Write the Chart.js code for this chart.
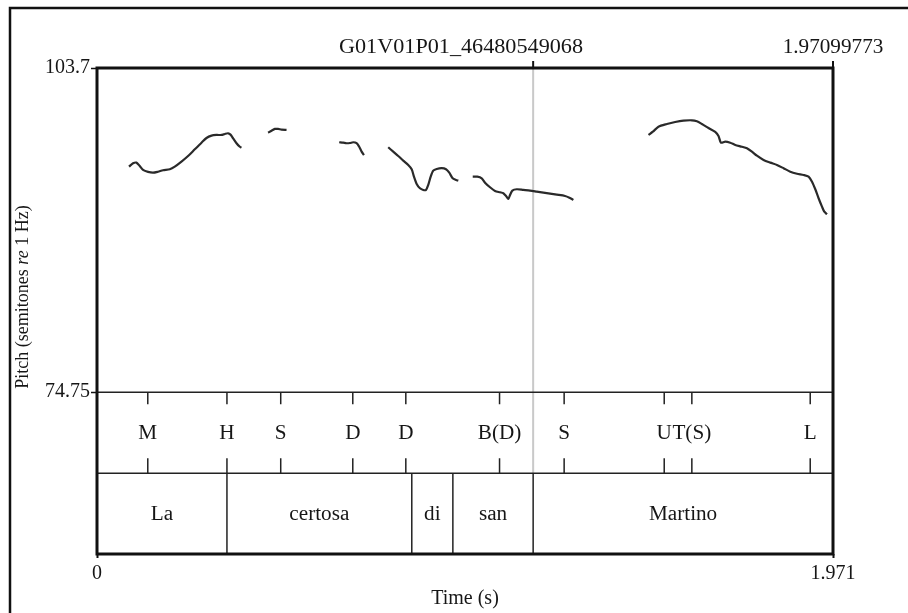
<!DOCTYPE html>
<html>
<head>
<meta charset="utf-8">
<script src="https://cdn.jsdelivr.net/npm/chart.js@4.4.1/dist/chart.umd.min.js"></script>
<style>
  html, body { margin: 0; padding: 0; background: #ffffff; }
  #wrap { width: 908px; height: 613px; }
</style>
</head>
<body>
<div id="wrap"><canvas id="c" width="908" height="613"></canvas></div>
<script>
// ---------------- data ----------------
const soundName = 'G01V01P01_46480549068';
const endTimeLabel = '1.97099773';
const timeMin = 0;
const timeMax = 1.971;
const xTickValues = [0, 1.971];
const pitchMin = 74.75;
const pitchMax = 103.7;
const yTickValues = [103.7, 74.75];
const tierBoundary = 67.52;   // bottom of tone tier (same units as pitch axis)
const axisFloor = 60.3;       // bottom of word tier
const cursorTime = 1.168;

// pitch contour (null = unvoiced gap)
const pitchTimes = [
  0.0858,0.0965,0.1056,0.1144,0.1233,0.1367,0.1501,0.1635,0.1769,0.1949,0.2083,0.2262,0.2439,0.2619,0.2798,0.2932,0.3066,0.3200,0.3334,0.3423,0.3511,0.3575,0.3645,0.3736,0.3825,0.3870,
  0.42,
  0.4583,0.4674,0.4763,0.4851,0.4942,0.5076,
  0.58,
  0.6486,0.6593,0.6684,0.6773,0.6861,0.6952,0.7022,0.7087,0.7148,
  0.75,
  0.7799,0.7933,0.8067,0.8201,0.8335,0.8427,0.8488,0.8561,0.8649,0.8737,0.8810,0.8871,0.8936,0.9005,0.9097,0.9231,0.9346,0.9434,0.9525,0.9614,0.9676,
  0.99,
  1.0062,1.0185,1.0303,1.0391,1.0525,1.0659,1.0793,1.0882,1.0954,1.1016,1.1061,1.1123,1.1241,1.1418,1.1597,1.1777,1.1954,1.2133,1.2313,1.2535,1.2651,1.2758,
  1.38,
  1.4768,1.4886,1.5036,1.5261,1.5483,1.5706,1.5931,1.6065,1.6199,1.6376,1.6556,1.6644,1.6709,1.6824,1.6958,1.7092,1.7271,1.7405,1.7539,1.7673,1.7850,1.8030,1.8209,1.8386,1.8566,1.8746,1.8922,1.9056,1.9148,1.9236,1.9324,1.9415,1.9477,1.9550
];
const pitchValues = [
  94.89,95.19,95.25,94.95,94.60,94.42,94.35,94.44,94.57,94.66,94.89,95.34,95.84,96.44,97.03,97.45,97.66,97.72,97.72,97.81,97.87,97.75,97.42,96.98,96.67,96.59,
  null,
  97.92,98.10,98.26,98.26,98.19,98.17,
  null,
  97.07,97.03,96.98,97.00,97.07,97.00,96.67,96.23,95.93,
  null,
  96.62,96.23,95.84,95.43,95.04,94.66,94.00,93.35,92.96,92.81,92.81,93.26,94.00,94.53,94.68,94.75,94.66,94.35,93.85,93.70,93.64,
  null,
  94.00,94.00,93.85,93.46,93.05,92.72,92.60,92.52,92.27,92.01,92.36,92.75,92.87,92.81,92.75,92.66,92.57,92.48,92.39,92.27,92.12,91.92,
  null,
  97.72,98.01,98.46,98.70,98.88,99.00,99.03,98.94,98.70,98.34,97.99,97.63,97.03,97.12,97.03,96.83,96.67,96.53,96.23,95.87,95.49,95.25,95.04,94.75,94.44,94.26,94.15,94.00,93.55,92.87,92.07,91.32,90.87,90.64
];

// tone tier (point tier)
const toneTimes  = [0.136, 0.348, 0.492, 0.685, 0.827, 1.078, 1.251, 1.519, 1.593, 1.910];
const toneLabels = ['M', 'H', 'S', 'D', 'D', 'B(D)', 'S', 'U', 'T(S)', 'L'];

// word tier (interval tier)
const wordBounds = [0, 0.348, 0.843, 0.953, 1.168, 1.971];
const wordLabels = ['La', 'certosa', 'di', 'san', 'Martino'];

// ---------------- style ----------------
const FONT = '"Liberation Serif", "Times New Roman", serif';
const INK = '#161616';
const STRETCH = 1.06;

function stretchedText(ctx, s, x, y, k) {
  ctx.save();
  ctx.translate(x, y);
  ctx.scale(k, 1);
  ctx.fillText(s, 0, 0);
  ctx.restore();
}

const praatPlugin = {
  id: 'praatDecor',
  beforeDatasetsDraw(chart) {
    const { ctx, chartArea: a, scales: { x, y } } = chart;
    ctx.save();
    const cx = x.getPixelForValue(cursorTime);
    ctx.strokeStyle = '#c9c9c9';
    ctx.lineWidth = 2;
    ctx.beginPath();
    ctx.moveTo(cx, a.top);
    ctx.lineTo(cx, y.getPixelForValue(tierBoundary));
    ctx.stroke();
    ctx.restore();
  },
  afterDatasetsDraw(chart) {
    const { ctx, chartArea: a, scales: { x, y } } = chart;
    const yPB = y.getPixelForValue(pitchMin);
    const yTB = y.getPixelForValue(tierBoundary);
    const yBot = y.getPixelForValue(axisFloor);
    ctx.save();
    ctx.strokeStyle = '#222';
    ctx.fillStyle = INK;
    // tier separators
    ctx.lineWidth = 1.5;
    [yPB, yTB].forEach(yy => {
      ctx.beginPath(); ctx.moveTo(a.left, yy); ctx.lineTo(a.right, yy); ctx.stroke();
    });
    // tone tier points
    ctx.font = '20px ' + FONT;
    ctx.textAlign = 'center';
    ctx.textBaseline = 'middle';
    toneTimes.forEach((t, i) => {
      const px = x.getPixelForValue(t);
      ctx.beginPath();
      ctx.moveTo(px, yPB); ctx.lineTo(px, yPB + 12);
      ctx.moveTo(px, yTB - 15); ctx.lineTo(px, yTB);
      ctx.stroke();
      stretchedText(ctx, toneLabels[i], px, (yPB + yTB) / 2 + 1, STRETCH);
    });
    // word tier
    wordBounds.slice(1, -1).forEach(t => {
      const px = x.getPixelForValue(t);
      ctx.beginPath(); ctx.moveTo(px, yTB); ctx.lineTo(px, yBot); ctx.stroke();
    });
    wordLabels.forEach((w, i) => {
      const px = (x.getPixelForValue(wordBounds[i]) + x.getPixelForValue(wordBounds[i + 1])) / 2;
      stretchedText(ctx, w, px, (yTB + yBot) / 2 + 1, STRETCH);
    });
    // plot frame
    ctx.strokeStyle = '#111';
    ctx.lineWidth = 3;
    ctx.strokeRect(a.left, a.top, a.right - a.left, a.bottom - a.top);
    // top ticks (cursor and end)
    ctx.lineWidth = 2;
    [cursorTime, timeMax].forEach(t => {
      const px = x.getPixelForValue(t);
      ctx.beginPath(); ctx.moveTo(px, a.top - 7); ctx.lineTo(px, a.top); ctx.stroke();
    });
    // top texts
    ctx.textBaseline = 'middle';
    ctx.textAlign = 'center';
    stretchedText(ctx, endTimeLabel, x.getPixelForValue(timeMax), a.top - 20, STRETCH);
    const tw = ctx.measureText(soundName).width;
    stretchedText(ctx, soundName, (a.left + a.right) / 2 - 4, a.top - 20, 244 / tw);
    // y axis title with italic "re"
    ctx.save();
    ctx.translate(23, 297);
    ctx.rotate(-Math.PI / 2);
    const parts = [['Pitch (semitones ', 'normal'], ['re', 'italic'], [' 1 Hz)', 'normal']];
    let total = 0;
    parts.forEach(p => { ctx.font = p[1] + ' 18px ' + FONT; total += ctx.measureText(p[0]).width; });
    let sx = -total / 2;
    ctx.textAlign = 'left';
    parts.forEach(p => {
      ctx.font = p[1] + ' 18px ' + FONT;
      ctx.fillText(p[0], sx, 0);
      sx += ctx.measureText(p[0]).width;
    });
    ctx.restore();
    // outer picture frame
    ctx.strokeStyle = '#111';
    ctx.lineWidth = 2.5;
    ctx.strokeRect(10, 8, 2000, 2000);
    ctx.restore();
  }
};

const points = pitchTimes.map((t, i) => ({ x: t, y: pitchValues[i] }));

new Chart(document.getElementById('c'), {
  type: 'line',
  data: {
    datasets: [{
      label: 'Pitch',
      data: points,
      borderColor: '#2a2a2a',
      borderWidth: 2.2,
      pointRadius: 0,
      tension: 0.25,
      spanGaps: false,
      fill: false
    }]
  },
  options: {
    responsive: false,
    animation: false,
    devicePixelRatio: 1,
    layout: { padding: { left: 0, right: 75, top: 68, bottom: 0 } },
    plugins: { legend: { display: false }, tooltip: { enabled: false }, title: { display: false } },
    scales: {
      x: {
        type: 'linear',
        min: timeMin,
        max: timeMax,
        afterBuildTicks: s => { s.ticks = xTickValues.map(v => ({ value: v })); },
        afterFit: s => { s.height = 59; },
        grid: { drawOnChartArea: false, drawTicks: true, tickLength: 4, tickWidth: 2, color: '#111' },
        border: { display: false },
        ticks: { autoSkip: false, maxRotation: 0, padding: 4, color: INK, font: { family: FONT, size: 20 },
                 callback: v => String(v) },
        title: { display: true, text: 'Time (s)', color: INK, font: { family: FONT, size: 20 }, padding: { top: 0, bottom: 2 } }
      },
      y: {
        type: 'linear',
        min: axisFloor,
        max: pitchMax,
        afterBuildTicks: s => { s.ticks = yTickValues.map(v => ({ value: v })); },
        afterFit: s => { s.width = 97; },
        grid: { drawOnChartArea: false, drawTicks: true, tickLength: 6, tickWidth: 1.5, color: '#111' },
        border: { display: false },
        ticks: { autoSkip: false, padding: 1, color: INK, font: { family: FONT, size: 20 },
                 callback: v => String(v) }
      }
    }
  },
  plugins: [praatPlugin]
});
</script>
</body>
</html>
